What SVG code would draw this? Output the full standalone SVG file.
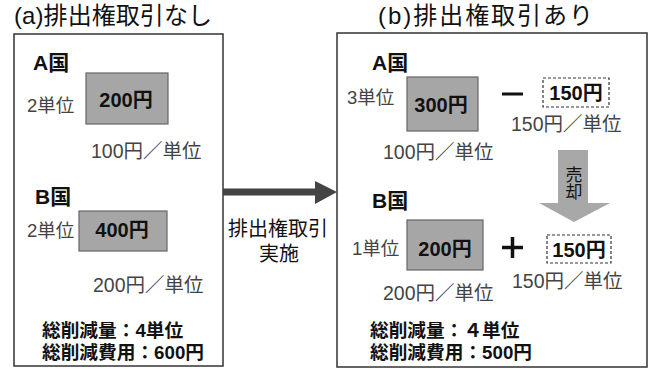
<svg xmlns="http://www.w3.org/2000/svg" width="652" height="375" viewBox="0 0 652 375">
<style>
text{font-family:"Liberation Sans","Noto Sans CJK JP",sans-serif;}
.title{font-size:24px;fill:#111;}
.country{font-size:21px;font-weight:bold;fill:#111;}
.unit{font-size:18.5px;fill:#444;}
.price{font-size:19.5px;fill:#444;}
.val{font-size:20px;font-weight:bold;fill:#111;text-anchor:middle;}
.sum{font-size:18.7px;font-weight:bold;fill:#111;}
.box{fill:#a6a6a6;stroke:#666;stroke-width:1.2;}
.dash{fill:#fff;stroke:#333;stroke-width:1.2;stroke-dasharray:3 2;}
.panel{fill:#fff;stroke:#333;stroke-width:1.5;}
.lbl{font-size:20px;fill:#111;text-anchor:middle;}
.vert{font-size:17px;fill:#111;writing-mode:vertical-rl;font-family:"Noto Sans CJK JP",sans-serif;}
</style>
<rect width="652" height="375" fill="#fff"/>
<g id="title-a"><text class="title" x="14" y="24" textLength="198" lengthAdjust="spacing">(a)排出権取引なし</text></g>
<g id="title-b"><text class="title" x="378" y="24" textLength="215" lengthAdjust="spacing">(b)排出権取引あり</text></g>
<g id="panel-a">
<rect class="panel" x="14" y="34" width="209" height="332"/>
<text class="country" x="33" y="70">A国</text>
<text class="unit" x="27" y="112">2単位</text>
<rect class="box" x="86" y="73" width="82" height="51"/>
<text class="val" x="126" y="107">200円</text>
<text class="price" x="91" y="158">100円／単位</text>
<text class="country" x="35" y="204">B国</text>
<text class="unit" x="27" y="237">2単位</text>
<rect class="box" x="79" y="211" width="88" height="40"/>
<text class="val" x="122" y="237">400円</text>
<text class="price" x="93" y="292">200円／単位</text>
<text class="sum" x="42" y="337">総削減量：4単位</text>
<text class="sum" x="42" y="359">総削減費用：600円</text>
</g>
<g id="connectors">
<line x1="223" y1="192" x2="318" y2="192" stroke="#444" stroke-width="7"/>
<polygon points="315,181 337,192 315,204" fill="#444"/>
<text class="lbl" x="278" y="236">排出権取引</text>
<text class="lbl" x="279" y="261">実施</text>
</g>
<g id="panel-b">
<rect class="panel" x="337" y="33" width="310" height="334"/>
<text class="country" x="372" y="70">A国</text>
<text class="unit" x="347" y="104">3単位</text>
<rect class="box" x="407" y="77" width="71" height="54"/>
<text class="val" x="441" y="112">300円</text>
<line x1="502" y1="94" x2="523" y2="94" stroke="#111" stroke-width="3"/>
<rect class="dash" x="543" y="78" width="66" height="29"/>
<text class="val" x="576" y="100">150円</text>
<text class="price" x="511" y="131">150円／単位</text>
<text class="price" x="383" y="159">100円／単位</text>
<text class="country" x="372" y="208">B国</text>
<text class="unit" x="352" y="255">1単位</text>
<rect class="box" x="407" y="220" width="76" height="50"/>
<text class="val" x="445" y="256">200円</text>
<path d="M502 247.5H523M512.5 237V258" stroke="#111" stroke-width="3.5" fill="none"/>
<rect class="dash" x="547" y="235" width="64" height="28"/>
<text class="val" x="579" y="257">150円</text>
<text class="price" x="512" y="288">150円／単位</text>
<text class="price" x="383" y="300">200円／単位</text>
<text class="sum" x="370" y="337">総削減量：４単位</text>
<text class="sum" x="370" y="359">総削減費用：500円</text>
</g>
<g id="sell-arrow">
<polygon points="558,150 588,150 588,203 610,203 574,222 539,203 558,203" fill="#a8a8a8"/>
<text class="vert" x="574" y="166">売却</text>
</g>
</svg>
